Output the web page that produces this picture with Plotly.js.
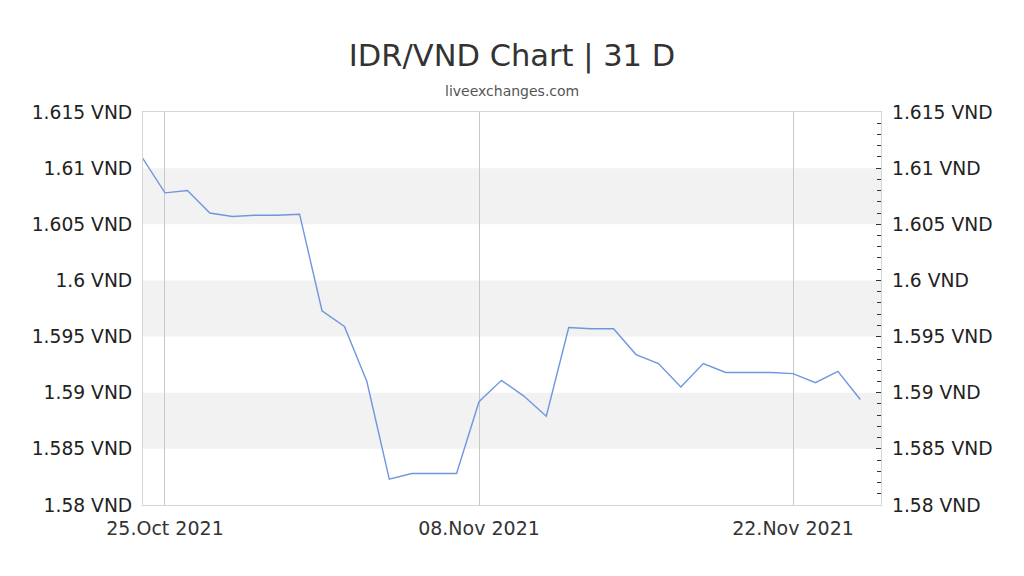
<!DOCTYPE html>
<html>
<head>
<meta charset="utf-8">
<script src="https://cdn.plot.ly/plotly-3.0.1.min.js"></script>
<style>
html,body{margin:0;padding:0;background:#fff;}
#chart{width:1024px;height:576px;}
</style>
</head>
<body>
<div id="chart"></div>
<script>
var dates = [
  '2021-10-24','2021-10-25','2021-10-26','2021-10-27','2021-10-28','2021-10-29','2021-10-30','2021-10-31',
  '2021-11-01','2021-11-02','2021-11-03','2021-11-04','2021-11-05','2021-11-06','2021-11-07','2021-11-08',
  '2021-11-09','2021-11-10','2021-11-11','2021-11-12','2021-11-13','2021-11-14','2021-11-15','2021-11-16',
  '2021-11-17','2021-11-18','2021-11-19','2021-11-20','2021-11-21','2021-11-22','2021-11-23','2021-11-24',
  '2021-11-25'
];
var rates = [
  1.6109, 1.6078, 1.6080, 1.6060, 1.6057, 1.6058, 1.6058, 1.6059,
  1.5973, 1.5959, 1.5910, 1.5823, 1.5828, 1.5828, 1.5828, 1.5892,
  1.5911, 1.5897, 1.5879, 1.5958, 1.5957, 1.5957, 1.5934, 1.5926,
  1.5905, 1.5926, 1.5918, 1.5918, 1.5918, 1.5917, 1.5909, 1.5919,
  1.5894
];
var xTickVals = ['2021-10-25', '2021-11-08', '2021-11-22'];
var xTickText = ['25.Oct 2021', '08.Nov 2021', '22.Nov 2021'];
var yTickVals = [1.58, 1.585, 1.59, 1.595, 1.6, 1.605, 1.61, 1.615];
var yTickText = ['1.58 VND', '1.585 VND', '1.59 VND', '1.595 VND', '1.6 VND', '1.605 VND', '1.61 VND', '1.615 VND'];
var bandRanges = [[1.605, 1.61], [1.595, 1.6], [1.585, 1.59]];
var xRange = ['2021-10-24 00:28', '2021-11-25 22:09'];
var yRange = [1.58, 1.615];

var FONT = 'DejaVu Sans, sans-serif';

var shapes = bandRanges.map(function (b) {
  return {type: 'rect', xref: 'paper', yref: 'y', x0: 0, x1: 1, y0: b[0], y1: b[1],
          fillcolor: '#f2f2f2', line: {width: 0}, layer: 'below'};
});

var traces = [
  {x: dates, y: rates, type: 'scatter', mode: 'lines',
   line: {color: '#7096e0', width: 1.4}, hoverinfo: 'x+y', showlegend: false},
  {x: dates, y: rates, type: 'scatter', mode: 'lines', yaxis: 'y2',
   line: {color: 'rgba(0,0,0,0)', width: 0}, hoverinfo: 'skip', showlegend: false}
];

var layout = {
  width: 1024, height: 576,
  paper_bgcolor: '#ffffff', plot_bgcolor: 'rgba(0,0,0,0)',
  margin: {l: 143, r: 143, t: 112, b: 71, pad: 0},
  font: {family: FONT, color: '#222', size: 18.7},
  title: {text: 'IDR/VND Chart | 31 D', font: {family: FONT, size: 30.5, color: '#333'},
          x: 0.5, xanchor: 'center', y: 1 - 55.5 / 576, yanchor: 'middle', yref: 'container'},
  annotations: [{text: 'liveexchanges.com', xref: 'paper', yref: 'paper', x: 0.5, y: 1 + 21 / 393,
                 xanchor: 'center', yanchor: 'middle', showarrow: false,
                 font: {family: FONT, size: 14, color: '#555'}}],
  shapes: shapes,
  xaxis: {type: 'date', range: xRange, tickvals: xTickVals, ticktext: xTickText,
          showgrid: true, gridcolor: '#c8c8c8', gridwidth: 1,
          showline: true, linecolor: '#d6d6d6', linewidth: 1, mirror: true,
          ticks: '', zeroline: false, tickfont: {family: FONT, size: 19, color: '#333'},
          ticklabelstandoff: 6, fixedrange: true},
  yaxis: {range: yRange, tickvals: yTickVals, ticktext: yTickText,
          showgrid: false, zeroline: false, showline: true, linecolor: '#d6d6d6', linewidth: 1,
          mirror: true, ticks: '', tickfont: {family: FONT, size: 18.7, color: '#222'},
          ticklabelstandoff: 6, fixedrange: true},
  yaxis2: {range: yRange, overlaying: 'y', side: 'right', tickvals: yTickVals, ticktext: yTickText,
           showgrid: false, zeroline: false, showline: false,
           ticks: 'inside', ticklen: 5, tickwidth: 1, tickcolor: '#333',
           minor: {dtick: 0.001, ticks: 'inside', ticklen: 4, tickwidth: 1, tickcolor: '#333', showgrid: false},
           tickfont: {family: FONT, size: 18.7, color: '#222'}, ticklabelstandoff: 10, fixedrange: true}
};

Plotly.newPlot('chart', traces, layout, {displayModeBar: false, staticPlot: true});
</script>
</body>
</html>
